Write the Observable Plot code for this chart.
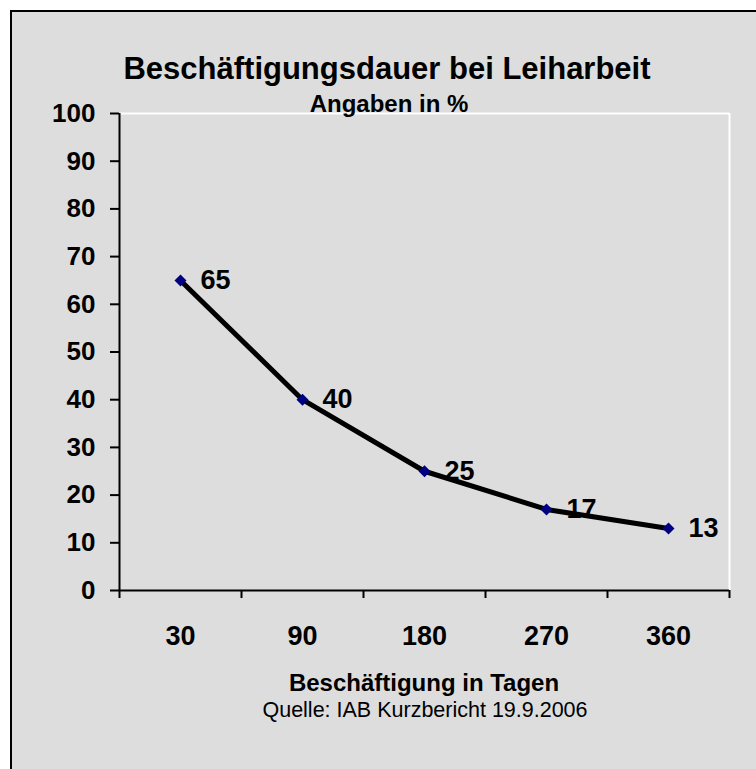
<!DOCTYPE html>
<html>
<head>
<meta charset="utf-8">
<script src="https://cdn.jsdelivr.net/npm/d3@7"></script>
<script src="https://cdn.jsdelivr.net/npm/@observablehq/plot@0.6"></script>
<style>
  html, body { margin: 0; padding: 0; background: #ffffff; }
  #page { position: relative; width: 756px; height: 769px; overflow: hidden; font-family: "Liberation Sans", Arial, sans-serif; }
  #panel { position: absolute; left: 10px; top: 10px; width: 800px; height: 800px; background: #dddddd; border-left: 2.5px solid #000; border-top: 2.5px solid #000; }
  #chart { position: absolute; left: 0; top: 0; }
  .t { position: absolute; line-height: 1; white-space: nowrap; color: #000; transform: translateX(-50%); }
</style>
</head>
<body>
<div id="page">
  <div id="panel"></div>
  <div id="chart"></div>
  <div class="t" style="left:387px; top:53px; font-size:31px; font-weight:bold;">Beschäftigungsdauer bei Leiharbeit</div>
  <div class="t" style="left:389px; top:92px; font-size:24px; font-weight:bold;">Angaben in %</div>
  <div class="t" style="left:424px; top:671px; font-size:24px; font-weight:bold;">Beschäftigung in Tagen</div>
  <div class="t" style="left:425px; top:700px; font-size:21.5px;">Quelle: IAB Kurzbericht 19.9.2006</div>
</div>
<script>
const categories = ["30", "90", "180", "270", "360"];
const values = [65, 40, 25, 17, 13];
const yTicks = [0, 10, 20, 30, 40, 50, 60, 70, 80, 90, 100];

const data = categories.map((c, i) => ({ i, c, v: values[i] }));
const bandEdges = categories.map((_, i) => i - 0.5).concat([categories.length - 0.5]);
const centers = categories.map((_, i) => i);

const chart = Plot.plot({
  width: 756,
  height: 769,
  marginLeft: 119,
  marginRight: 27,
  marginTop: 113,
  marginBottom: 179,
  style: { background: "transparent", fontFamily: "Liberation Sans, Arial, sans-serif", color: "black", overflow: "visible" },
  x: { type: "linear", domain: [-0.5, categories.length - 0.5] },
  y: { domain: [0, 100] },
  marks: [
    Plot.ruleY([100], { stroke: "white", strokeWidth: 2 }),
    Plot.ruleX([categories.length - 0.5], { stroke: "white", strokeWidth: 2 }),
    Plot.ruleX([-0.5], { stroke: "black", strokeWidth: 2 }),
    Plot.ruleY([0], { stroke: "black", strokeWidth: 2 }),
    Plot.axisY({ ticks: yTicks, tickSize: 9, tickPadding: 15, fontSize: 26, fontWeight: "bold", label: null, strokeWidth: 2 }),
    Plot.axisX({ ticks: bandEdges, tickSize: 8, tickFormat: () => "", label: null, strokeWidth: 2 }),
    Plot.axisX({ ticks: centers, tickSize: 0, tickPadding: 35, tickFormat: (i) => categories[i], fontSize: 27, fontWeight: "bold", label: null }),
    Plot.line(data, { x: "i", y: "v", stroke: "black", strokeWidth: 5 }),
    Plot.dot(data, { x: "i", y: "v", symbol: "diamond2", r: 5.4, fill: "#000080", stroke: null }),
    Plot.text(data, { x: "i", y: "v", text: (d) => String(d.v), dx: 20, textAnchor: "start", fontSize: 27, fontWeight: "bold", fill: "black" })
  ]
});
document.getElementById("chart").append(chart);
</script>
</body>
</html>
